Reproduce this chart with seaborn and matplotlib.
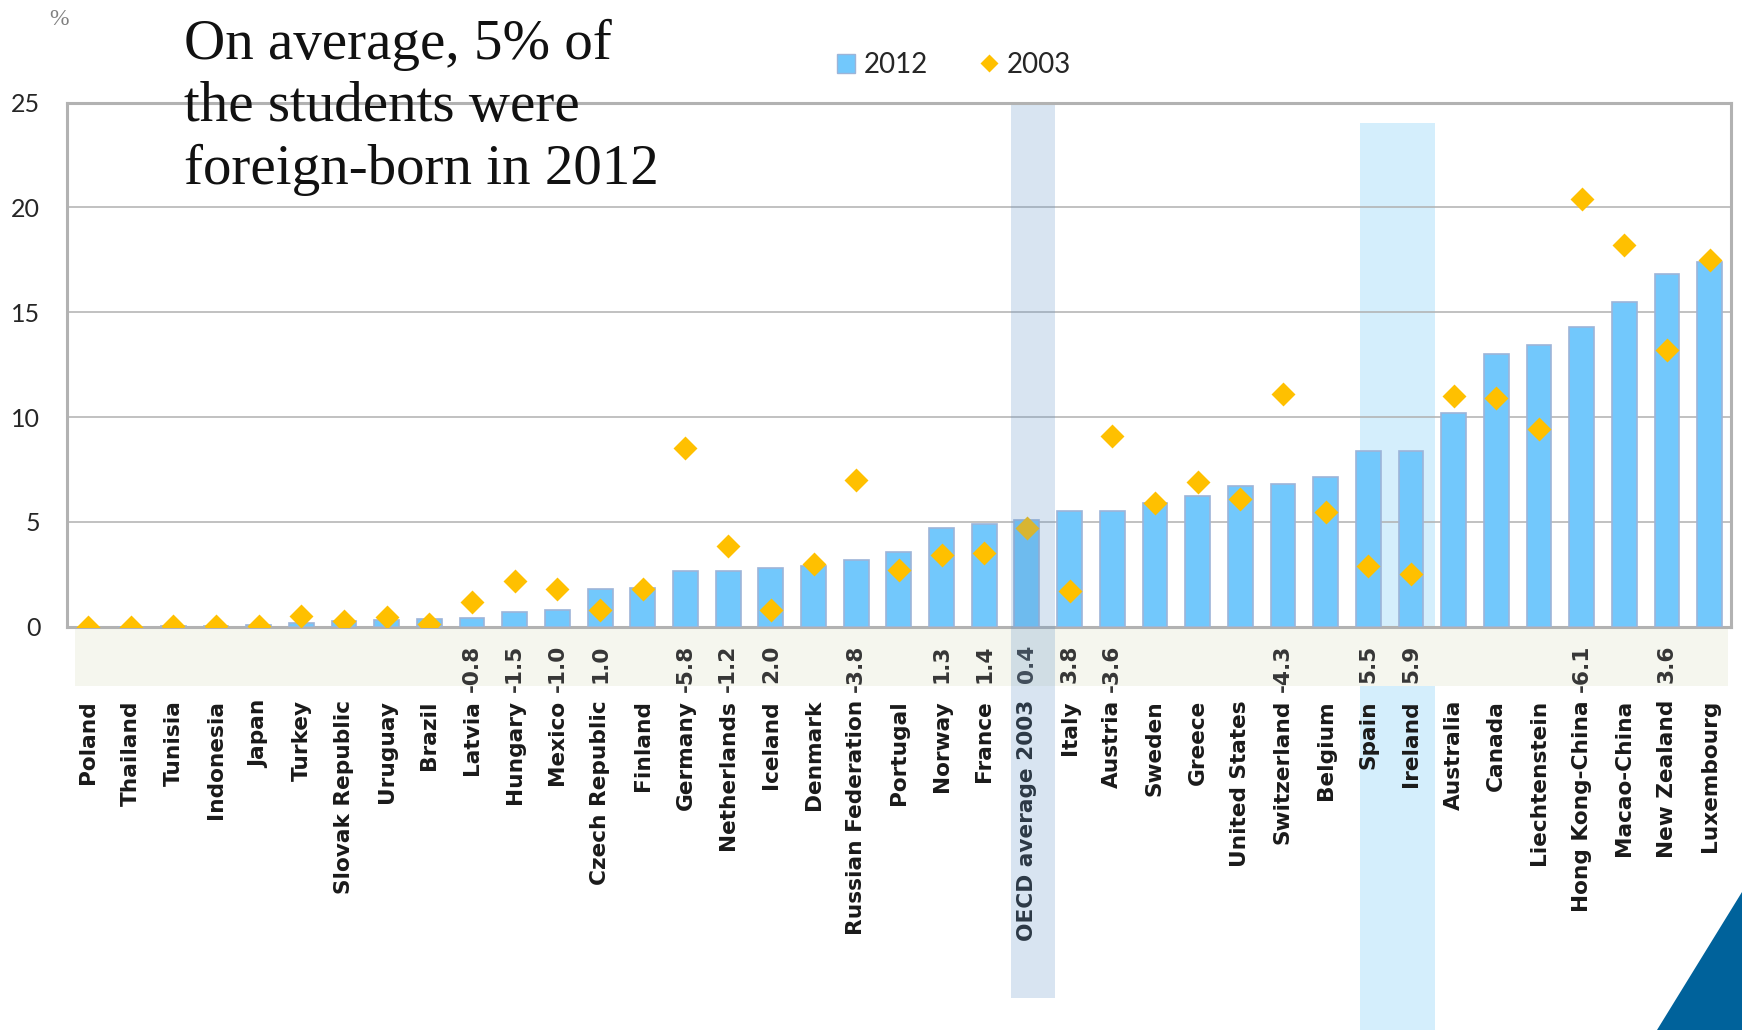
import numpy as np
import pandas as pd
import matplotlib
matplotlib.use("Agg")
import matplotlib.pyplot as plt
from matplotlib.patches import Rectangle, Polygon, Patch
from matplotlib.lines import Line2D
import seaborn as sns

# Share of foreign-born students (%), PISA 2012 vs 2003
countries = [
    "Poland", "Thailand", "Tunisia", "Indonesia", "Japan", "Turkey",
    "Slovak Republic", "Uruguay", "Brazil", "Latvia", "Hungary", "Mexico",
    "Czech Republic", "Finland", "Germany", "Netherlands", "Iceland",
    "Denmark", "Russian Federation", "Portugal", "Norway", "France",
    "OECD average 2003", "Italy", "Austria", "Sweden", "Greece",
    "United States", "Switzerland", "Belgium", "Spain", "Ireland",
    "Australia", "Canada", "Liechtenstein", "Hong Kong-China",
    "Macao-China", "New Zealand", "Luxembourg",
]
share_2012 = [
    0.0, 0.0, 0.05, 0.05, 0.1, 0.2, 0.25, 0.3, 0.35, 0.4, 0.7, 0.8,
    1.8, 1.85, 2.65, 2.65, 2.8, 2.9, 3.2, 3.55, 4.7, 4.9,
    5.1, 5.5, 5.5, 5.9, 6.25, 6.7, 6.8, 7.15, 8.4, 8.4,
    10.2, 13.0, 13.45, 14.3, 15.5, 16.8, 17.4,
]
share_2003 = [
    0.0, 0.0, 0.05, 0.05, 0.05, 0.5, 0.25, 0.45, 0.15, 1.2, 2.2, 1.8,
    0.8, 1.8, 8.5, 3.85, 0.8, 3.0, 7.0, 2.7, 3.4, 3.5,
    4.7, 1.7, 9.1, 5.9, 6.9, 6.1, 11.1, 5.45, 2.9, 2.5,
    11.0, 10.9, 9.45, 20.4, 18.2, 13.2, 17.5,
]
# Significant change 2012 - 2003 (percentage points)
change_labels = [
    "", "", "", "", "", "", "", "", "", "-0.8", "-1.5", "-1.0",
    "1.0", "", "-5.8", "-1.2", "2.0", "", "-3.8", "", "1.3", "1.4",
    "0.4", "3.8", "-3.6", "", "", "", "-4.3", "", "5.5", "5.9",
    "", "", "", "-6.1", "", "3.6", "",
]
y_ticks = [0, 5, 10, 15, 20, 25]
title_lines = ["On average, 5% of", "the students were", "foreign-born in 2012"]
series_names = ["2012", "2003"]

BAR = "#72C8FC"
BAR_EDGE = "#9DB4D8"
DIAMOND = "#FFC000"

sns.set_theme(style="white")
plt.rcParams["font.family"] = ["DejaVu Sans"]

W, H = 1742, 1030
fig = plt.figure(figsize=(W / 100, H / 100), dpi=100)
fig.patch.set_facecolor("white")
x0, x1, y0, y1 = 66.7, 1731.0, 626.7, 102.5
ax = fig.add_axes([x0 / W, 1 - y0 / H, (x1 - x0) / W, (y0 - y1) / H])
ax.patch.set_alpha(0)

df = pd.DataFrame({"country": countries, "y2012": share_2012, "y2003": share_2003})

sns.barplot(data=df, x="country", y="y2012", color=BAR, saturation=1,
            width=0.58, edgecolor=BAR_EDGE, linewidth=1.2, ax=ax, zorder=3)
sns.stripplot(data=df, x="country", y="y2003", jitter=False, marker="D",
              size=12.2, color=DIAMOND, linewidth=0, ax=ax, zorder=4)

n = len(countries)
ax.set_xlim(-0.5, n - 0.5)
ax.set_ylim(0, 25)
ax.set_xlabel("")
ax.set_ylabel("")

# frame and grid
for side in ["left", "right", "top", "bottom"]:
    ax.spines[side].set_visible(True)
    ax.spines[side].set_color("#b2b2b2")
    ax.spines[side].set_linewidth(2.2)
ax.set_axisbelow(True)
ax.yaxis.grid(True, color="#b0b0b0", linewidth=1.1)
ax.xaxis.grid(False)

ax.set_yticks(y_ticks)
ax.tick_params(axis="y", length=0, pad=19, labelsize=18, labelcolor="#262626")
for lbl in ax.get_yticklabels():
    lbl.set_fontfamily("Lato")

ax.set_xticks(range(n))
ax.set_xticklabels(countries, rotation=90, fontsize=15.6, fontweight="bold",
                   color="#1a1a1a", va="top", ha="center")
ax.tick_params(axis="x", length=0, pad=52.8)

# shaded strip holding the change values
ax.add_patch(Rectangle((-0.305, -2.83), 38.735, 2.72, facecolor="#f5f6ee",
                       edgecolor="none", clip_on=False, zorder=0.3))
for i, lab in enumerate(change_labels):
    if lab:
        ax.text(i, -0.87, lab, rotation=90, ha="center", va="top",
                fontsize=15.6, fontweight="bold", color="#363636",
                clip_on=False, zorder=5)

# highlight for Spain and Ireland
ax.add_patch(Rectangle((29.81, -20), 1.76, 44.0, facecolor="#d4eefc",
                       edgecolor="none", clip_on=False, zorder=0.2))
# overlay on the OECD average column
ax.add_patch(Rectangle((21.63, -17.7), 1.03, 42.6, facecolor="#6496c8",
                       alpha=0.25, edgecolor="none", clip_on=False, zorder=10))

# legend
handles = [
    Patch(facecolor=BAR, edgecolor=BAR_EDGE, linewidth=1),
    Line2D([], [], marker="D", color="none", markerfacecolor=DIAMOND,
           markeredgecolor="none", markersize=9.5),
]
fig.legend(handles, series_names, loc="center left",
           bbox_to_anchor=(812 / W, 1 - 65 / H), ncol=2, frameon=False,
           prop={"family": "Lato", "size": 20}, handlelength=0.65,
           handleheight=0.65, handletextpad=0.3, columnspacing=1.9,
           borderpad=0.4)

# headline
for k, line in enumerate(title_lines):
    fig.text(184 / W, 1 - (59 + 62.5 * k) / H, line, family="Liberation Serif",
             size=41, va="baseline", ha="left", color="#111111", zorder=20)

fig.text(49 / W, 1 - 9 / H, "%", family="Liberation Serif", size=17,
         va="top", ha="left", color="#808080")

# corner decoration
fig.patches.append(Polygon([(1657 / W, 0), (1, (H - 892) / H), (1, 0)],
                           closed=True, transform=fig.transFigure,
                           facecolor="#00629B", edgecolor="none"))

fig.savefig("out.png", dpi=100)
